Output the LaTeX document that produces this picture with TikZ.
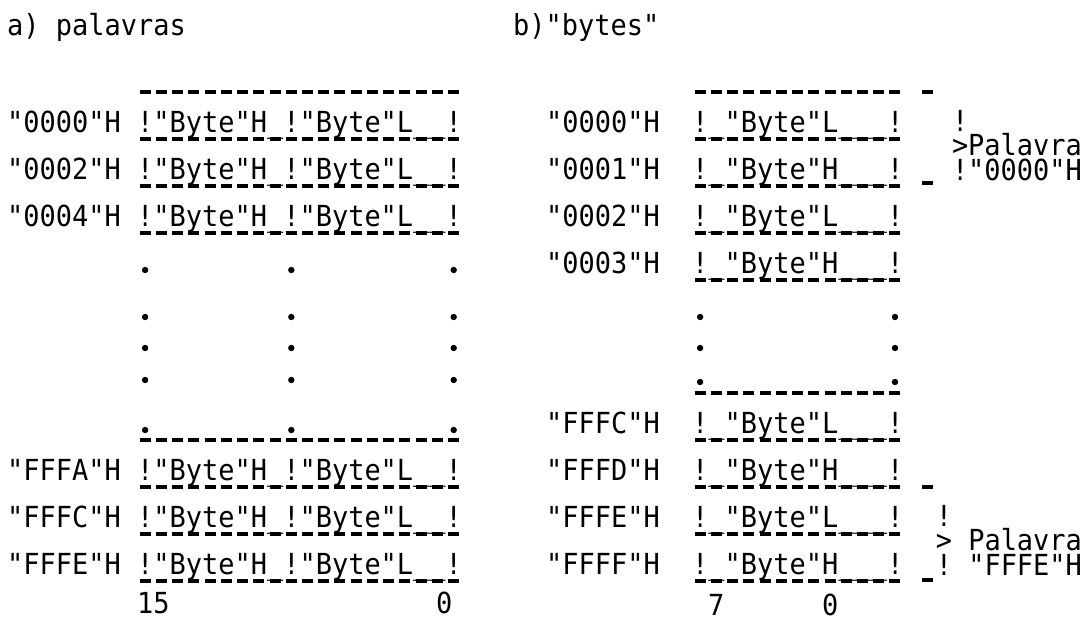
\documentclass[tikz,border=0pt]{standalone}
\usepackage{fontspec}
\usepackage{tikz}
\newfontfamily\typewriter[FakeStretch=0.93]{DejaVu Sans Mono}
\tikzstyle{typed} = [inner sep=0pt, anchor=base west,
    font=\typewriter\fontsize{29pt}{30pt}\selectfont]
\tikzstyle{dashrule} = [draw, line width=3.6pt, dash pattern=on 11pt off 5.24pt]
\tikzstyle{typedot} = [circle, fill, inner sep=0pt, minimum size=6.4pt]

\begin{document}
\begin{tikzpicture}[x=1pt, y=-1pt]
    \useasboundingbox (0,0) rectangle (1089,621);
    % Titles
    \node [typed] (titlea) at (7,35) {a)~palavras};
    \node [typed] (titleb) at (513,35) {b)"bytes"};
    % a) words: addresses and cells
    \node [typed] (la0) at (7,132) {"0000"H};
    \node [typed] (lc0) at (137,132) {!"Byte"H\_!"Byte"L\_\_!};
    \node [typed] (la2) at (7,179) {"0002"H};
    \node [typed] (lc2) at (137,179) {!"Byte"H\_!"Byte"L\_\_!};
    \node [typed] (la4) at (7,226) {"0004"H};
    \node [typed] (lc4) at (137,226) {!"Byte"H\_!"Byte"L\_\_!};
    \node [typed] (laA) at (7,480) {"FFFA"H};
    \node [typed] (lcA) at (137,480) {!"Byte"H\_!"Byte"L\_\_!};
    \node [typed] (laC) at (7,527) {"FFFC"H};
    \node [typed] (lcC) at (137,527) {!"Byte"H\_!"Byte"L\_\_!};
    \node [typed] (laE) at (7,574) {"FFFE"H};
    \node [typed] (lcE) at (137,574) {!"Byte"H\_!"Byte"L\_\_!};
    \node [typed] (lbit15) at (137,613) {15};
    \node [typed] (lbit0) at (436,613) {0};
    % b) bytes: addresses and cells
    \node [typed] (ra0) at (546,132) {"0000"H};
    \node [typed] (rc0) at (692,132) {!\_"Byte"L\_\_\_!};
    \node [typed] (ra1) at (546,179) {"0001"H};
    \node [typed] (rc1) at (692,179) {!\_"Byte"H\_\_\_!};
    \node [typed] (ra2) at (546,226) {"0002"H};
    \node [typed] (rc2) at (692,226) {!\_"Byte"L\_\_\_!};
    \node [typed] (ra3) at (546,273) {"0003"H};
    \node [typed] (rc3) at (692,273) {!\_"Byte"H\_\_\_!};
    \node [typed] (raC) at (546,433) {"FFFC"H};
    \node [typed] (rcC) at (692,433) {!\_"Byte"L\_\_\_!};
    \node [typed] (raD) at (546,480) {"FFFD"H};
    \node [typed] (rcD) at (692,480) {!\_"Byte"H\_\_\_!};
    \node [typed] (raE) at (546,527) {"FFFE"H};
    \node [typed] (rcE) at (692,527) {!\_"Byte"L\_\_\_!};
    \node [typed] (raF) at (546,574) {"FFFF"H};
    \node [typed] (rcF) at (692,574) {!\_"Byte"H\_\_\_!};
    \node [typed] (rbit7) at (708,615) {7};
    \node [typed] (rbit0) at (822,615) {0};
    % Word brackets
    \node [typed] (tbar) at (951.8,131) {!};
    \node [typed] (tword) at (951.8,155) {>Palavra};
    \node [typed] (taddr) at (951.8,180) {!"0000"H};
    \node [typed] (bbar) at (935.6,526) {!};
    \node [typed] (bword) at (935.6,550) {>~Palavra};
    \node [typed] (baddr) at (935.6,575) {!~"FFFE"H};
    % Dots
    \path (145.1,270) node [typedot] (ld1a) {} (291.3,270) node [typedot] (ld1b) {} (453.7,270) node [typedot] (ld1c) {};
    \path (145.1,317) node [typedot] (ld2a) {} (291.3,317) node [typedot] (ld2b) {} (453.7,317) node [typedot] (ld2c) {};
    \path (145.1,348) node [typedot] (ld3a) {} (291.3,348) node [typedot] (ld3b) {} (453.7,348) node [typedot] (ld3c) {};
    \path (145.1,380) node [typedot] (ld4a) {} (291.3,380) node [typedot] (ld4b) {} (453.7,380) node [typedot] (ld4c) {};
    \path (145.1,430) node [typedot] (ld5a) {} (291.3,430) node [typedot] (ld5b) {} (453.7,430) node [typedot] (ld5c) {};
    \path (700.1,317) node [typedot] (rd1a) {} (895,317) node [typedot] (rd1b) {};
    \path (700.1,348) node [typedot] (rd2a) {} (895,348) node [typedot] (rd2b) {};
    \path (700.1,382) node [typedot] (rd3a) {} (895,382) node [typedot] (rd3b) {};
    % Rules
    \draw [dashrule] (139.6,92) -- (459.2,92);
    \draw [dashrule] (139.6,139) -- (459.2,139);
    \draw [dashrule] (139.6,186) -- (459.2,186);
    \draw [dashrule] (139.6,233) -- (459.2,233);
    \draw [dashrule] (139.6,440) -- (459.2,440);
    \draw [dashrule] (139.6,487) -- (459.2,487);
    \draw [dashrule] (139.6,534) -- (459.2,534);
    \draw [dashrule] (139.6,581) -- (459.2,581);
    \draw [dashrule] (694.6,92) -- (900.5,92);
    \draw [dashrule] (694.6,139) -- (900.5,139);
    \draw [dashrule] (694.6,186) -- (900.5,186);
    \draw [dashrule] (694.6,233) -- (900.5,233);
    \draw [dashrule] (694.6,280) -- (900.5,280);
    \draw [dashrule] (694.6,393) -- (900.5,393);
    \draw [dashrule] (694.6,440) -- (900.5,440);
    \draw [dashrule] (694.6,487) -- (900.5,487);
    \draw [dashrule] (694.6,534) -- (900.5,534);
    \draw [dashrule] (694.6,581) -- (900.5,581);
    \draw [dashrule] (922,92) -- (933,92);
    \draw [dashrule] (922,183) -- (933,183);
    \draw [dashrule] (922,487) -- (933,487);
    \draw [dashrule] (922,580) -- (933,580);
\end{tikzpicture}
\end{document}
